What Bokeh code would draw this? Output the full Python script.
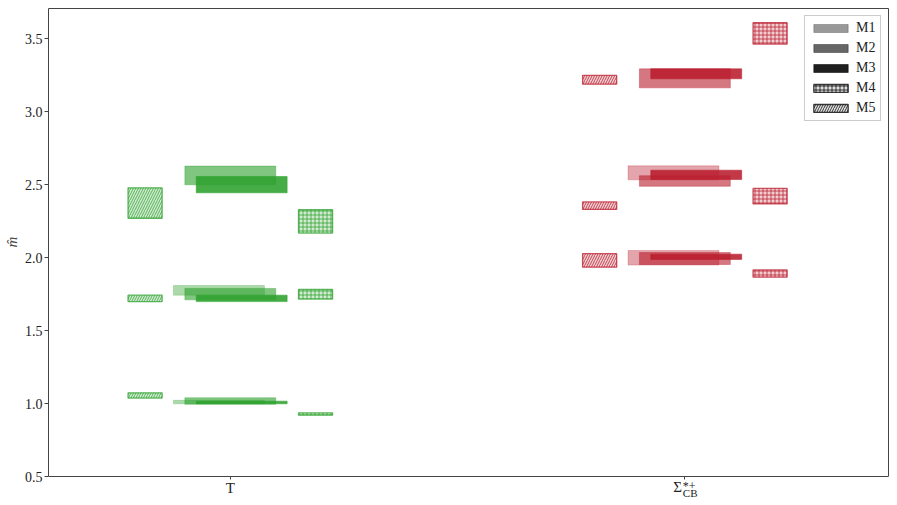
import numpy as np
from bokeh.plotting import figure
from bokeh.models import (Range1d, FixedTicker, Label, Legend, LegendItem, ColumnDataSource,
                          PrintfTickFormatter, LinearAxis)
from bokeh.embed import file_html
from bokeh.resources import INLINE

# ---- data ----
groups = ["T", "Sigma_CB*+"]
group_pos = [0, 1]
series = ["M1", "M2", "M3", "M4", "M5"]

# T group: centre values and half-widths of the bands
T_M1 = [1.775, 1.010]
T_M1_err = [0.033, 0.012]
T_M2 = [2.562, 1.749, 1.017]
T_M2_err = [0.064, 0.039, 0.022]
T_M3 = [2.499, 1.720, 1.007]
T_M3_err = [0.056, 0.022, 0.009]
T_M4 = [2.247, 1.748, 0.928]
T_M4_err = [0.080, 0.033, 0.008]
T_M5 = [2.373, 1.720, 1.055]
T_M5_err = [0.104, 0.022, 0.018]

# Sigma_CB^{*+} group
S_M1 = [2.580, 1.998]
S_M1_err = [0.048, 0.050]
S_M2 = [3.227, 2.524, 1.993]
S_M2_err = [0.065, 0.036, 0.041]
S_M3 = [3.258, 2.566, 2.005]
S_M3_err = [0.034, 0.032, 0.018]
S_M4 = [3.535, 2.420, 1.890]
S_M4_err = [0.073, 0.053, 0.025]
S_M5 = [3.217, 2.355, 1.980]
S_M5_err = [0.030, 0.026, 0.046]

y_ticks = [0.5, 1.0, 1.5, 2.0, 2.5, 3.0, 3.5]
y_axis_min, y_axis_max = 0.5, 3.7055

# ---- styles ----
group_colors = ["#2ca02c", "#b91c2d"]
offsets = {"M1": -0.025, "M2": 0.0, "M3": 0.025, "M4": 0.1875, "M5": -0.1875}
widths = {"M1": 0.2, "M2": 0.2, "M3": 0.2, "M4": 0.075, "M5": 0.075}
alphas = {"M1": 0.4, "M2": 0.6, "M3": 0.88, "M4": 0.75, "M5": 0.75}
hatches = {"M1": None, "M2": None, "M3": None, "M4": "cross", "M5": "right_diagonal_line"}
hatch_scales = {"M4": 4, "M5": 5}

data = {
    0: {"M1": (T_M1, T_M1_err), "M2": (T_M2, T_M2_err), "M3": (T_M3, T_M3_err),
        "M4": (T_M4, T_M4_err), "M5": (T_M5, T_M5_err)},
    1: {"M1": (S_M1, S_M1_err), "M2": (S_M2, S_M2_err), "M3": (S_M3, S_M3_err),
        "M4": (S_M4, S_M4_err), "M5": (S_M5, S_M5_err)},
}

FONT = "Liberation Serif"
SPINE = "#444444"
TXT = "#222222"

# frame extends below y=0.5 (down to the page bottom) so that the x tick labels
# live inside it; the x axis itself is pinned at y=0.5
p = figure(width=897, height=505,
           x_range=Range1d(-0.4, 1.448), y_range=Range1d(0.3014, y_axis_max),
           output_backend="svg", toolbar_location=None,
           min_border_left=47, min_border_right=9, min_border_top=8, min_border_bottom=0)
p.xgrid.visible = False
p.ygrid.visible = False
p.outline_line_color = None
p.background_fill_color = "white"
p.border_fill_color = "white"


def box_style(name, color, fill_hatched):
    a = alphas[name]
    if hatches[name] is None:
        return dict(fill_color=color, fill_alpha=a, line_color=color, line_alpha=a * 0.6,
                    line_width=1)
    return dict(fill_color=color, fill_alpha=fill_hatched, line_color=color, line_alpha=a,
                line_width=1.3, hatch_pattern=hatches[name], hatch_color=color,
                hatch_alpha=a, hatch_scale=hatch_scales[name], hatch_weight=1)


def draw(gi, name, color):
    vals, errs = data[gi][name]
    xc = group_pos[gi] + offsets[name]
    w = widths[name]
    src = ColumnDataSource(dict(
        left=[xc - w / 2] * len(vals),
        right=[xc + w / 2] * len(vals),
        bottom=[v - e for v, e in zip(vals, errs)],
        top=[v + e for v, e in zip(vals, errs)],
    ))
    p.quad(left="left", right="right", bottom="bottom", top="top", source=src,
           **box_style(name, color, 0.22))


for gi in group_pos:
    for name in ["M1", "M2", "M3", "M5", "M4"]:
        draw(gi, name, group_colors[gi])

# legend proxies (gray, not drawn in the frame)
items = []
for name in series:
    proxy = ColumnDataSource(dict(left=[np.nan], right=[np.nan], bottom=[np.nan], top=[np.nan]))
    r = p.quad(left="left", right="right", bottom="bottom", top="top", source=proxy,
               **box_style(name, "black", 0.12))
    items.append(LegendItem(label=name, renderers=[r]))

legend = Legend(items=items, location="top_right", margin=7, padding=4, spacing=4,
                glyph_width=43, glyph_height=10, label_height=16, label_standoff=4,
                label_text_font=FONT, label_text_font_size="14px", label_text_color=TXT,
                border_line_color="#cccccc", border_line_alpha=1, background_fill_alpha=0.85)
p.add_layout(legend)

# x axis pinned at y = 0.5
p.xaxis.ticker = FixedTicker(ticks=group_pos)
p.xaxis.major_label_overrides = {0: "T", 1: ""}
p.xaxis.fixed_location = y_axis_min
# left axis only spans the data area
p.yaxis.ticker = FixedTicker(ticks=y_ticks)
p.yaxis.formatter = PrintfTickFormatter(format="%.1f")
p.yaxis.bounds = (y_axis_min, y_axis_max)
for ax in (p.xaxis, p.yaxis):
    ax.minor_tick_line_color = None
    ax.major_tick_in = 0
    ax.major_label_text_font = FONT
    ax.major_label_text_color = TXT
    ax.axis_line_color = SPINE
    ax.major_tick_line_color = SPINE
p.xaxis.major_tick_out = 3
p.xaxis.major_label_standoff = 0
p.xaxis.major_label_text_font_size = "15px"
p.yaxis.major_tick_out = 4
p.yaxis.major_label_standoff = 2
p.yaxis.major_label_text_font_size = "14px"
# leading em spaces keep the label centred on the data area (0.5 .. 3.7), not the frame
p.yaxis.axis_label = "\u2003\u2003m\u0302"
p.yaxis.axis_label_text_font = FONT
p.yaxis.axis_label_text_font_style = "italic"
p.yaxis.axis_label_text_font_size = "15px"
p.yaxis.axis_label_standoff = 2

# top and right spines as bare axes
top_ax = LinearAxis(ticker=FixedTicker(ticks=[]), major_label_text_font_size="0px",
                    major_tick_out=0, major_tick_in=0, minor_tick_line_color=None,
                    axis_line_color=SPINE)
right_ax = LinearAxis(ticker=FixedTicker(ticks=[]), major_label_text_font_size="0px",
                      major_tick_out=0, major_tick_in=0, minor_tick_line_color=None,
                      axis_line_color=SPINE, bounds=(y_axis_min, y_axis_max))
p.add_layout(top_ax, "above")
p.add_layout(right_ax, "right")

# Sigma_CB^{*+} tick label built from pieces (inside the frame, below y=0.5)
lab_kw = dict(x=group_pos[1], y=y_axis_min, x_units="data", y_units="data",
              text_font=FONT, text_color=TXT, text_baseline="top")
p.add_layout(Label(text="\u03a3", text_align="right", x_offset=-3, y_offset=-2,
                   text_font_size="15px", **lab_kw))
p.add_layout(Label(text="*+", text_align="left", x_offset=-2, y_offset=-2,
                   text_font_size="12px", **lab_kw))
p.add_layout(Label(text="CB", text_align="left", x_offset=-2, y_offset=-10,
                   text_font_size="11px", **lab_kw))

open("out.html", "w").write(file_html(p, INLINE))
